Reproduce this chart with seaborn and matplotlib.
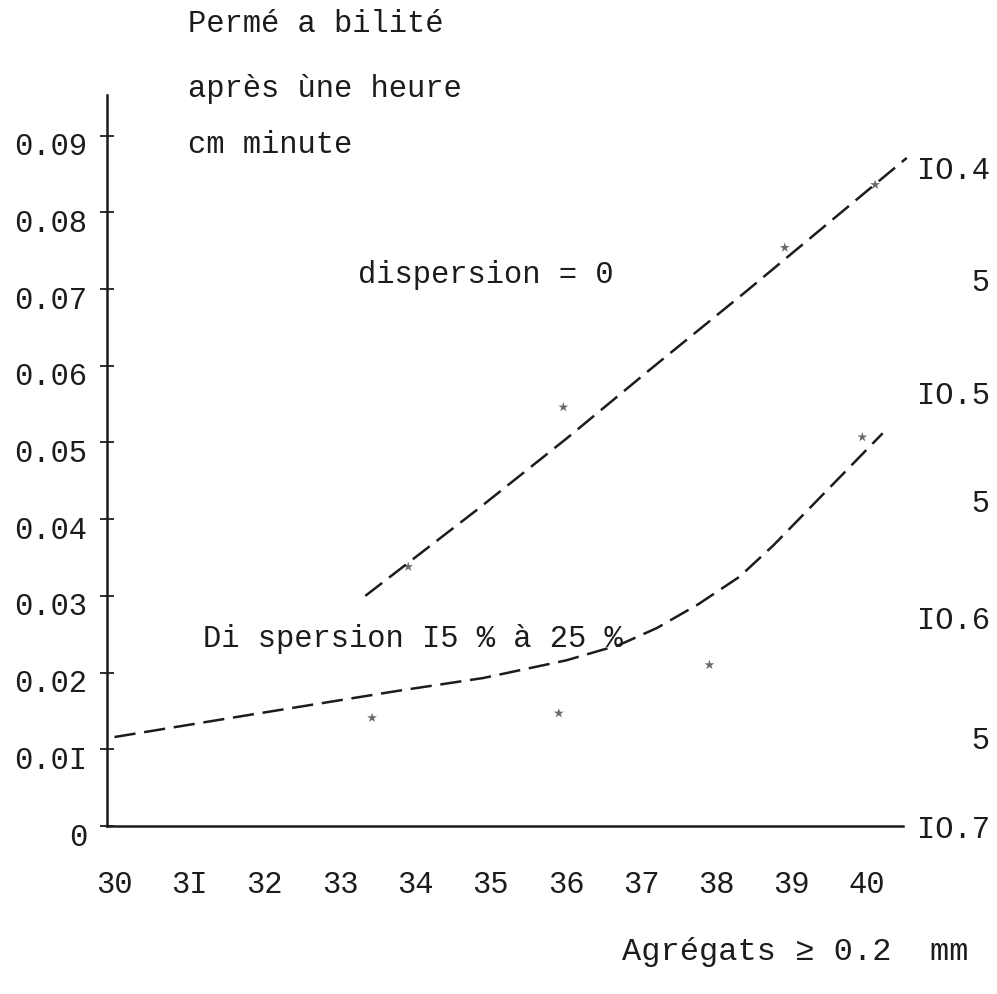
import matplotlib
matplotlib.use("Agg")
import matplotlib.pyplot as plt
import matplotlib.transforms as mtransforms
import pandas as pd
import seaborn as sns

# --- valeurs ---
x_ticks = [30, 31, 32, 33, 34, 35, 36, 37, 38, 39, 40]
x_tick_labels = ["30", "3I", "32", "33", "34", "35", "36", "37", "38", "39", "40"]
y_ticks = [0, 0.01, 0.02, 0.03, 0.04, 0.05, 0.06, 0.07, 0.08, 0.09]
y_tick_labels = ["0", "0.0I", "0.02", "0.03", "0.04", "0.05", "0.06", "0.07", "0.08", "0.09"]

# échelle de droite tapée à la machine
right_ticks = [0.0858, 0.0712, 0.0565, 0.0425, 0.0272, 0.0116, 0.0]
right_labels = ["IO.4", "   5", "IO.5", "   5", "IO.6", "   5", "IO.7"]

# courbe "dispersion = 0"
upper_x = [33.43, 34.91, 36.1, 37.21, 38.5, 40.62]
upper_y = [0.0300, 0.0412, 0.0505, 0.0595, 0.0698, 0.0871]
upper_pts_x = [34.0, 36.06, 39.0, 40.2]
upper_pts_y = [0.0338, 0.0546, 0.0754, 0.0836]

# courbe "Di spersion I5 % à 25 %"
lower_x = [30.1, 31.9, 33.85, 35.0, 36.1, 36.8, 37.3, 37.85, 38.4, 38.85, 40.3]
lower_y = [0.0116, 0.0145, 0.0176, 0.0193, 0.0216, 0.0236, 0.0258, 0.0289, 0.0325, 0.0366, 0.0512]
lower_pts_x = [33.52, 36.0, 38.0, 40.03]
lower_pts_y = [0.0141, 0.0147, 0.0210, 0.0507]

sns.set_theme(style="white")
plt.rcParams['font.family'] = ['Liberation Mono', 'DejaVu Sans Mono']
ink = "#1c1c1c"
W, H = 997, 994

fig = plt.figure(figsize=(9.97, 9.94), dpi=100)
ax = fig.add_axes([107 / W, 1 - 826 / H, (903 - 107) / W, (826 - 95) / H])

curves = pd.DataFrame({
    "x": upper_x + lower_x,
    "y": upper_y + lower_y,
    "serie": ["d0"] * len(upper_x) + ["d15"] * len(lower_x),
})
points = pd.DataFrame({
    "x": upper_pts_x + lower_pts_x,
    "y": upper_pts_y + lower_pts_y,
})

for name, grp in curves.groupby("serie"):
    sns.lineplot(data=grp, x="x", y="y", ax=ax, sort=False, estimator=None,
                 color=ink, linewidth=1.8, linestyle=(0, (8.5, 3.5)), clip_on=False)
sns.scatterplot(data=points, x="x", y="y", ax=ax, marker="*", s=55,
                color="#6a6a6a", edgecolor="none", clip_on=False)

ax.set_xlim(30, 40.57)
ax.set_ylim(0, 0.0953)
ax.set_xlabel("")
ax.set_ylabel("")
for side in ["top", "right"]:
    ax.spines[side].set_visible(False)
for side in ["left", "bottom"]:
    ax.spines[side].set_color(ink)
    ax.spines[side].set_linewidth(1.8)

ax.set_xticks(x_ticks)
ax.set_xticklabels(x_tick_labels)
ax.set_yticks(y_ticks)
ax.set_yticklabels(y_tick_labels)
ax.tick_params(axis="both", direction="inout", length=10, width=1.3, color=ink,
               labelsize=22, labelcolor=ink)
ax.tick_params(axis="x", pad=27)
ax.tick_params(axis="y", pad=9)

# décalages de la machine à écrire
dx = mtransforms.ScaledTranslation(7 / 100, 0, fig.dpi_scale_trans)
for lab in ax.get_xticklabels():
    lab.set_transform(lab.get_transform() + dx)
dy = mtransforms.ScaledTranslation(0, -8 / 100, fig.dpi_scale_trans)
for lab in ax.get_yticklabels():
    lab.set_transform(lab.get_transform() + dy)

ax2 = ax.twinx()
ax2.set_ylim(ax.get_ylim())
ax2.set_yticks(right_ticks)
ax2.set_yticklabels(right_labels)
ax2.tick_params(axis="y", length=0, pad=10, labelsize=22, labelcolor=ink)
for side in ax2.spines:
    ax2.spines[side].set_visible(False)
ax2.grid(False)


def txt(x, y, s, size=22):
    fig.text(x / W, 1 - y / H, s, fontsize=size, color=ink, va="baseline", ha="left")


txt(188, 32, "Permé a bilité")
txt(188, 97, "après ùne heure")
txt(188, 153, "cm minute")
txt(358, 283, "dispersion = 0")
txt(203, 647, "Di spersion I5 % à 25 %")
txt(622, 960, "Agrégats ≥ 0.2  mm", size=23)

fig.savefig("out.png", dpi=100)
